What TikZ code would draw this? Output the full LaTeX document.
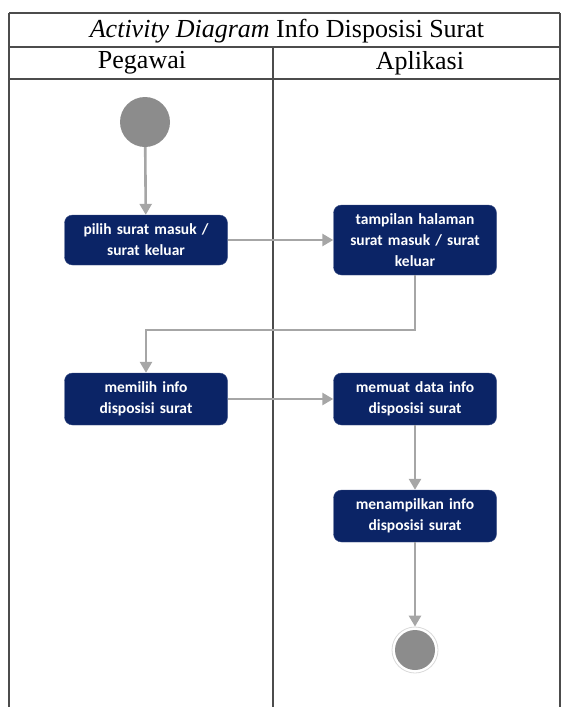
\documentclass[tikz,border=0pt]{standalone}
\usepackage{fontspec}
\setmainfont{Liberation Serif}
\newfontfamily\nodefont{Carlito}
\usetikzlibrary{arrows.meta}
\definecolor{navy}{HTML}{0B2466}
\definecolor{flowgray}{HTML}{A6A6A6}
\definecolor{dotgray}{HTML}{8C8C8C}
\tikzset{
  act/.style={rectangle, rounded corners=8pt, fill=navy, draw=navy!80!white, text=white,
    font=\nodefont\bfseries\fontsize{15.5}{21}\selectfont, align=center,
    minimum width=163pt, text width=158pt, inner sep=2pt},
  flow/.style={draw=flowgray, line width=2.6pt, -{Triangle[length=11pt,width=12pt]}},
  frame/.style={draw=black!70, line width=1.2pt},
  hdr/.style={font=\fontsize{26}{30}\selectfont, inner sep=0pt}
}
\begin{document}
\begin{tikzpicture}[x=1pt,y=-1pt]
\useasboundingbox (0,0) rectangle (563,707);
% frame
\draw[frame] (9,13) -- (560,13);
\draw[frame] (9,47) -- (560,47);
\draw[frame] (9,79) -- (560,79);
\draw[frame] (9,13) -- (9,707);
\draw[frame] (560,13) -- (560,707);
\draw[frame] (273,47) -- (273,707);
\node[hdr] (title) at (287,31) {\textit{Activity Diagram} Info Disposisi Surat};
\node[hdr] (lane1) at (142,63) {Pegawai};
\node[hdr] (lane2) at (420,63) {Aplikasi};
% nodes
\node[circle, fill=dotgray, minimum size=50pt, inner sep=0pt] (start) at (145,122) {};
\node[act, minimum height=50pt] (pilih) at (146,240) {pilih surat masuk /\\ surat keluar};
\node[act, minimum height=70pt] (tampil) at (415,240) {tampilan halaman\\ surat masuk / surat\\ keluar};
\node[act, minimum height=52pt] (memilih) at (146,399) {memilih info\\ disposisi surat};
\node[act, minimum height=52pt] (memuat) at (415,399) {memuat data info\\ disposisi surat};
\node[act, minimum height=52pt] (menampil) at (415,516) {menampilkan info\\ disposisi surat};
\node[circle, draw=black!15, line width=0.8pt, minimum size=46pt, inner sep=0pt] (endring) at (415,650) {};
\node[circle, fill=dotgray, minimum size=40pt, inner sep=0pt] (end) at (415,650) {};
% flows
\draw[flow] (start) -- (pilih);
\draw[flow] (pilih) -- (tampil);
\draw[flow] (tampil.south) -- (415,330) -- (146,330) -- (memilih.north);
\draw[flow] (memilih) -- (memuat);
\draw[flow] (memuat) -- (menampil);
\draw[flow] (menampil) -- (endring);
\end{tikzpicture}
\end{document}
